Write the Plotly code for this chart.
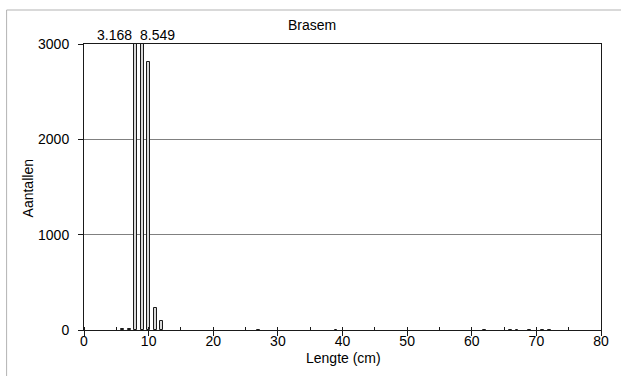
import plotly.graph_objects as go

# Data
lengths = [6, 7, 8, 9, 10, 11, 12, 27, 39, 62, 66, 67, 69, 71, 72]
counts = [8, 8, 3168, 8549, 2808, 228, 94, 4, 4, 4, 4, 4, 4, 4, 4]
x_ticks = [0, 10, 20, 30, 40, 50, 60, 70, 80]
y_ticks = [0, 1000, 2000, 3000]
title_text = "Brasem"
x_title = "Lengte (cm)"
y_title = "Aantallen"
y_max = 3000

W, H = 621, 376
L, R, T, B = 84, 16, 44, 46
pw, ph = W - L - R, H - T - B


def px_x(p):
    return (p - L) / pw


def px_y(p):
    return (H - B - p) / ph


FONT = "Liberation Sans, Arial, sans-serif"

fig = go.Figure()
fig.add_trace(go.Bar(
    x=lengths, y=counts, width=0.45,
    marker=dict(color="#d9d9d9", line=dict(color="#1a1a1a", width=1)),
    hoverinfo="x+y",
))

annotations = []
# labels for clipped bars
clipped = [(xv, yv) for xv, yv in zip(lengths, counts) if yv > y_max]
for i, (xv, yv) in enumerate(clipped):
    label = f"{yv:,}".replace(",", ".")
    annotations.append(dict(
        x=xv, y=y_max, xref="x", yref="y", text=label, showarrow=False,
        xanchor="right" if i == 0 else "left", yanchor="bottom",
        xshift=-2 if i == 0 else -4, yshift=-1,
        font=dict(family=FONT, size=14, color="#000"),
    ))
annotations.append(dict(
    x=px_x(314), y=px_y(25), xref="paper", yref="paper", text=title_text,
    showarrow=False, xanchor="center", yanchor="middle",
    font=dict(family=FONT, size=14, color="#000"),
))
annotations.append(dict(
    x=px_x(346), y=px_y(358), xref="paper", yref="paper", text=x_title,
    showarrow=False, xanchor="center", yanchor="middle",
    font=dict(family=FONT, size=14, color="#000"),
))
annotations.append(dict(
    x=px_x(28), y=px_y(188), xref="paper", yref="paper", text=y_title,
    showarrow=False, xanchor="center", yanchor="middle", textangle=-90,
    font=dict(family=FONT, size=14, color="#000"),
))

fig.update_layout(
    width=W, height=H,
    margin=dict(l=L, r=R, t=T, b=B, pad=0),
    paper_bgcolor="white", plot_bgcolor="white",
    showlegend=False,
    font=dict(family=FONT, size=14, color="#000"),
    annotations=annotations,
    shapes=[dict(
        type="rect", xref="paper", yref="paper",
        x0=px_x(6), x1=px_x(630), y0=px_y(390), y1=px_y(10),
        line=dict(color="#b3b3b3", width=1), fillcolor="rgba(0,0,0,0)",
        layer="below",
    )],
    bargap=0,
)
fig.update_xaxes(
    range=[0, 80], tickvals=x_ticks, ticks="outside", ticklen=5,
    tickcolor="#1a1a1a", showline=True, linecolor="#1a1a1a", linewidth=1,
    mirror=True, showgrid=False, zeroline=False, ticklabelstandoff=-7,
    minor=dict(dtick=5, ticks="inside", ticklen=3, tickcolor="#1a1a1a", showgrid=False),
    tickfont=dict(family=FONT, size=14),
)
fig.update_yaxes(
    range=[0, y_max], tickvals=y_ticks, ticks="outside", ticklen=5,
    tickcolor="#1a1a1a", showline=True, linecolor="#1a1a1a", linewidth=1,
    mirror=True, showgrid=True, gridcolor="#808080", gridwidth=1,
    zeroline=False, ticklabelstandoff=6,
    tickfont=dict(family=FONT, size=14),
)

fig.write_html("out.html")
